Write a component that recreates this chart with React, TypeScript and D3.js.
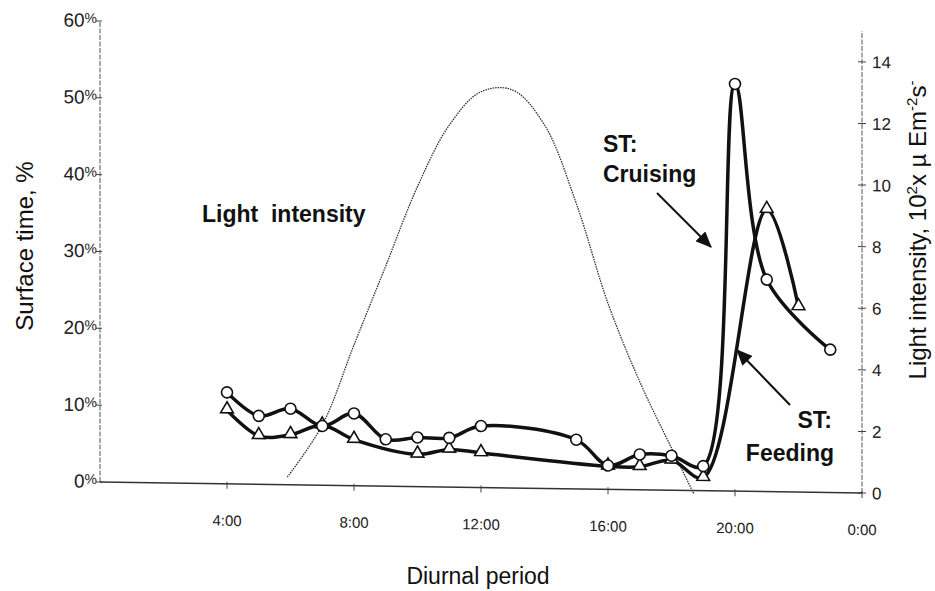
import React from 'react';
import * as d3 from 'd3';

// ---- data ----
const hoursCruising = [4, 5, 6, 7, 8, 9, 10, 11, 12, 15, 16, 17, 18, 19, 20, 21, 23];
const cruising = [11.9, 8.9, 9.9, 7.7, 9.4, 6.1, 6.4, 6.4, 8.0, 6.4, 3.1, 4.6, 4.5, 3.2, 53.0, 27.6, 18.6];
const hoursFeeding = [4, 5, 6, 7, 8, 10, 11, 12, 16, 17, 18, 19, 21, 22];
const feeding = [9.6, 6.3, 6.5, 7.8, 6.0, 4.2, 4.9, 4.5, 3.0, 3.0, 3.9, 1.7, 36.7, 24.1];
const hoursLight = [5.9, 7, 8, 9, 10, 11, 12, 13, 14, 15, 16, 17, 18, 18.7];
const light = [0.25, 1.95, 4.57, 7.15, 9.74, 11.75, 12.85, 12.92, 11.8, 9.27, 6.04, 3.51, 1.37, -0.1];
const leftTicks = [0, 10, 20, 30, 40, 50, 60];
const rightTicks = [0, 2, 4, 6, 8, 10, 12, 14];
const xTicks = [4, 8, 12, 16, 20, 24];
const xTickLabels = ['4:00', '8:00', '12:00', '16:00', '20:00', '0:00'];

const W = 935;
const H = 591;

export default function App() {
  const x = d3.scaleLinear().domain([0, 24]).range([100, 862]);
  const yL = d3.scaleLinear().domain([0, 60]).range([482, 21]);
  const yR = d3.scaleLinear().domain([0, 15]).range([482, 20]);
  const curve = d3.curveCatmullRom.alpha(0.5);

  const lineL = d3.line<[number, number]>().x(d => x(d[0])).y(d => yL(d[1])).curve(curve);
  const lineR = d3.line<[number, number]>().x(d => x(d[0])).y(d => yR(d[1])).curve(curve);

  const cData: [number, number][] = hoursCruising.map((h, i) => [h, cruising[i]]);
  const fData: [number, number][] = hoursFeeding.map((h, i) => [h, feeding[i]]);
  const lData: [number, number][] = hoursLight.map((h, i) => [h, light[i]]);

  const tri = d3.symbol().type(d3.symbolTriangle).size(70)();

  const tickFont = "'Liberation Sans', Arial, sans-serif";
  const boldFont = "'Liberation Sans', Arial, sans-serif";

  return (
    <svg width={W} height={H} style={{ position: 'absolute', left: 0, top: 0, background: '#fff' }}>
      <defs>
        <marker id="arr" markerUnits="userSpaceOnUse" markerWidth="16" markerHeight="14"
          viewBox="0 0 16 14" refX="15" refY="7" orient="auto">
          <path d="M0,0 L16,7 L0,14 Z" fill="#111" />
        </marker>
      </defs>
      <rect x={0} y={0} width={W} height={H} fill="#fff" />
      <g transform="translate(100,482) skewY(0.83) translate(-100,-482)">
        {/* left axis */}
        <line x1={100} x2={100} y1={yL(0)} y2={yL(60)} stroke="#555" strokeWidth={1} strokeDasharray="5 1.5" />
        {leftTicks.map(t => (
          <g key={'l' + t}>
            <line x1={96} x2={102} y1={yL(t)} y2={yL(t)} stroke="#444" strokeWidth={1} />
            <text x={97} y={yL(t) + 6} textAnchor="end" fontFamily={tickFont} fill="#222">
              <tspan fontSize={19}>{t}</tspan>
              <tspan fontSize={14} dy={-4}>%</tspan>
            </text>
          </g>
        ))}
        {/* right axis */}
        <line x1={862} x2={862} y1={yR(0)} y2={yR(15)} stroke="#555" strokeWidth={1} strokeDasharray="5 1.5" />
        {rightTicks.map(t => (
          <g key={'r' + t}>
            <line x1={858} x2={866} y1={yR(t)} y2={yR(t)} stroke="#444" strokeWidth={1} />
            <text x={872} y={yR(t)} dy="0.36em" textAnchor="start" fontFamily={tickFont} fontSize={17} fill="#222">{t}</text>
          </g>
        ))}
        {/* x axis */}
        <line x1={100} x2={862} y1={yL(0)} y2={yL(0)} stroke="#333" strokeWidth={1.5} />
        {xTicks.map((t, i) => (
          <g key={'x' + t}>
            <line x1={x(t)} x2={x(t)} y1={yL(0) - 2} y2={yL(0) + 5} stroke="#444" strokeWidth={1} />
            <text x={x(t)} y={yL(0) + 42} textAnchor="middle" fontFamily={tickFont} fontSize={15} fill="#222">{xTickLabels[i]}</text>
          </g>
        ))}

        {/* light intensity */}
        <path d={lineR(lData) || ''} fill="none" stroke="#333" strokeWidth={1.3} strokeDasharray="1.5 1" />

        {/* series */}
        <path d={lineL(fData) || ''} fill="none" stroke="#111" strokeWidth={3.5} strokeLinejoin="round" />
        <path d={lineL(cData) || ''} fill="none" stroke="#111" strokeWidth={3.5} strokeLinejoin="round" />
        {fData.map((d, i) => (
          <path key={'ft' + i} d={tri || ''} transform={`translate(${x(d[0])},${yL(d[1]) - 1})`}
            fill="#fff" stroke="#111" strokeWidth={1.6} />
        ))}
        {cData.map((d, i) => (
          <circle key={'cc' + i} cx={x(d[0])} cy={yL(d[1])} r={5.5} fill="#fff" stroke="#111" strokeWidth={1.6} />
        ))}
      </g>

      {/* annotations */}
      <text x={202} y={222} fontFamily={boldFont} fontWeight="bold" fontSize={23} fill="#111" style={{ whiteSpace: 'pre' }}>Light  intensity</text>
      <text x={603} y={152} fontFamily={boldFont} fontWeight="bold" fontSize={23} fill="#111">ST:</text>
      <text x={603} y={182} fontFamily={boldFont} fontWeight="bold" fontSize={23} fill="#111">Cruising</text>
      <text x={832} y={428} textAnchor="end" fontFamily={boldFont} fontWeight="bold" fontSize={23} fill="#111">ST:</text>
      <text x={834} y={461} textAnchor="end" fontFamily={boldFont} fontWeight="bold" fontSize={23} fill="#111">Feeding</text>
      <line x1={657} y1={193} x2={711} y2={247} stroke="#111" strokeWidth={2} markerEnd="url(#arr)" />
      <line x1={790} y1={405} x2={737} y2={350} stroke="#111" strokeWidth={2} markerEnd="url(#arr)" />

      {/* axis titles */}
      <text transform="translate(33,246) rotate(-90)" textAnchor="middle" fontFamily={tickFont} fontSize={24} fill="#111">Surface time, %</text>
      <text transform="translate(926,230) rotate(-90)" textAnchor="middle" fontFamily={tickFont} fontSize={24} fill="#111">
        Light intensity, 10<tspan fontSize={15} dy={-9}>2</tspan><tspan dy={9}>x µ Em</tspan><tspan fontSize={15} dy={-9}>-2</tspan><tspan dy={9}>s</tspan><tspan fontSize={15} dy={-9}>-</tspan>
      </text>
      <text x={478} y={584} textAnchor="middle" fontFamily={tickFont} fontSize={23} fill="#111">Diurnal period</text>
    </svg>
  );
}
